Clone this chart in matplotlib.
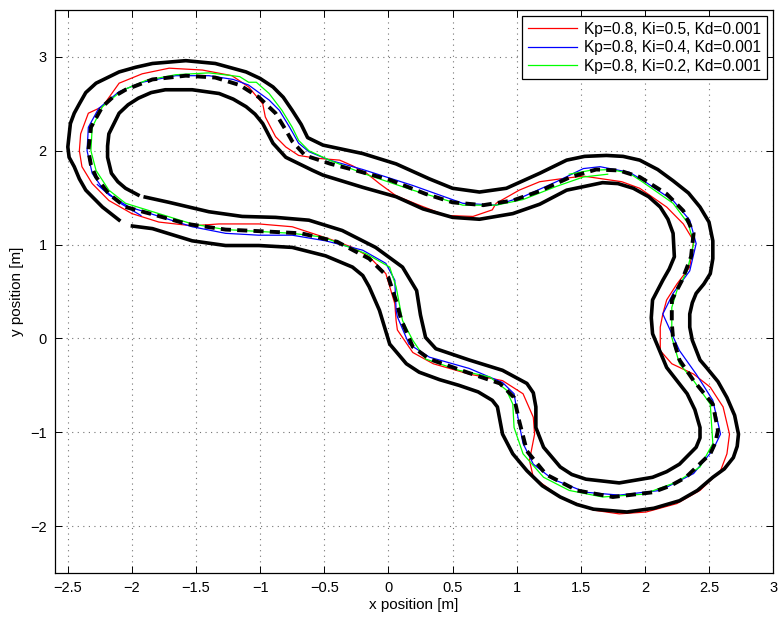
import numpy as np
import matplotlib
matplotlib.use("Agg")
import matplotlib.pyplot as plt

plt.rcParams['font.family'] = ['Liberation Sans', 'DejaVu Sans']

# pista: bordas externa / interna e linha central (x, y em metros)
outer = np.array([
    (-2.01, 1.20), (-1.84, 1.17), (-1.53, 1.04), (-1.27, 0.99), (-1.01, 0.99),
    (-0.75, 0.97), (-0.49, 0.88), (-0.28, 0.76), (-0.20, 0.67), (-0.15, 0.55),
    (-0.07, 0.30), (-0.03, 0.12), (0.01, -0.06), (0.14, -0.27), (0.24, -0.36),
    (0.40, -0.44), (0.55, -0.50), (0.70, -0.57), (0.81, -0.66), (0.85, -0.73),
    (0.89, -1.02), (0.97, -1.23), (1.08, -1.41), (1.20, -1.57), (1.34, -1.69),
    (1.47, -1.77), (1.60, -1.82), (1.86, -1.85), (2.07, -1.81), (2.27, -1.73),
    (2.41, -1.62), (2.53, -1.48), (2.62, -1.39), (2.69, -1.27), (2.72, -1.15),
    (2.73, -1.02), (2.70, -0.82), (2.64, -0.63), (2.57, -0.46), (2.48, -0.31),
    (2.43, -0.23), (2.37, -0.02), (2.35, 0.12), (2.35, 0.26), (2.37, 0.38),
    (2.40, 0.48), (2.46, 0.58), (2.51, 0.69), (2.53, 0.85), (2.53, 1.04),
    (2.50, 1.24), (2.43, 1.40), (2.34, 1.55), (2.22, 1.68), (2.10, 1.80),
    (1.96, 1.90), (1.83, 1.94), (1.70, 1.95), (1.53, 1.94), (1.39, 1.90),
    (1.18, 1.76), (0.92, 1.60), (0.71, 1.56), (0.50, 1.60), (0.32, 1.70),
    (0.06, 1.86), (-0.20, 1.97), (-0.51, 2.06), (-0.63, 2.14), (-0.68, 2.28),
    (-0.75, 2.43), (-0.82, 2.57), (-0.90, 2.68), (-1.00, 2.77), (-1.11, 2.84),
    (-1.35, 2.93), (-1.58, 2.96), (-1.84, 2.93), (-1.97, 2.89), (-2.10, 2.84),
    (-2.28, 2.72), (-2.36, 2.62), (-2.41, 2.50), (-2.45, 2.40), (-2.48, 2.29),
    (-2.50, 2.04), (-2.49, 1.93), (-2.45, 1.83), (-2.41, 1.70), (-2.36, 1.58),
    (-2.23, 1.40), (-2.09, 1.25),
])

inner = np.array([
    (-1.91, 1.51), (-1.71, 1.45), (-1.40, 1.35), (-1.14, 1.30), (-0.88, 1.29),
    (-0.62, 1.26), (-0.36, 1.15), (-0.10, 0.97), (0.11, 0.76), (0.22, 0.51),
    (0.25, 0.25), (0.29, 0.01), (0.37, -0.11), (0.63, -0.23), (0.89, -0.34),
    (1.08, -0.48), (1.13, -0.58), (1.15, -0.73), (1.15, -0.95), (1.21, -1.16),
    (1.34, -1.37), (1.43, -1.45), (1.54, -1.50), (1.80, -1.54), (2.06, -1.48),
    (2.17, -1.42), (2.27, -1.34), (2.40, -1.16), (2.43, -1.06), (2.43, -0.95),
    (2.39, -0.76), (2.33, -0.59), (2.17, -0.31), (2.06, 0.05), (2.05, 0.22),
    (2.06, 0.41), (2.14, 0.62), (2.19, 0.74), (2.23, 0.87), (2.22, 1.12),
    (2.18, 1.27), (2.12, 1.40), (2.03, 1.51), (1.91, 1.60), (1.79, 1.65),
    (1.67, 1.66), (1.39, 1.58), (1.18, 1.43), (0.97, 1.33), (0.71, 1.27),
    (0.50, 1.29), (0.27, 1.38), (0.06, 1.51), (-0.20, 1.61), (-0.51, 1.74),
    (-0.59, 1.79), (-0.80, 1.93), (-0.90, 2.08), (-0.98, 2.29), (-1.04, 2.39),
    (-1.11, 2.47), (-1.21, 2.55), (-1.32, 2.61), (-1.53, 2.65), (-1.74, 2.65),
    (-1.85, 2.62), (-1.95, 2.56), (-2.03, 2.49), (-2.10, 2.40), (-2.18, 2.18),
    (-2.19, 2.05), (-2.19, 1.93), (-2.16, 1.76), (-2.11, 1.67), (-2.05, 1.60),
    (-1.94, 1.52),
])

center = np.array([
    (-2.05, 1.40), (-1.86, 1.33), (-1.57, 1.22), (-1.27, 1.16), (-0.96, 1.14),
    (-0.68, 1.12), (-0.40, 1.03), (-0.15, 0.85), (0.00, 0.65), (0.06, 0.40),
    (0.10, 0.20), (0.19, -0.09), (0.32, -0.22), (0.61, -0.36), (0.87, -0.48),
    (0.98, -0.63), (1.02, -0.88), (1.08, -1.20), (1.23, -1.45), (1.47, -1.62),
    (1.75, -1.69), (2.06, -1.64), (2.20, -1.57), (2.32, -1.48), (2.51, -1.23),
    (2.55, -1.11), (2.57, -0.98), (2.53, -0.70), (2.38, -0.45), (2.27, -0.23),
    (2.22, 0.00), (2.21, 0.16), (2.21, 0.41), (2.29, 0.62), (2.36, 0.87),
    (2.38, 1.12), (2.30, 1.36), (2.17, 1.54), (1.96, 1.72), (1.80, 1.79),
    (1.62, 1.80), (1.42, 1.72), (1.18, 1.57), (0.97, 1.47), (0.74, 1.42),
    (0.50, 1.45), (0.29, 1.54), (0.01, 1.69), (-0.28, 1.80), (-0.45, 1.86),
    (-0.65, 1.95), (-0.75, 2.10), (-0.80, 2.22), (-0.88, 2.40), (-1.01, 2.57),
    (-1.16, 2.70), (-1.35, 2.78), (-1.58, 2.80), (-1.84, 2.76), (-2.05, 2.65),
    (-2.15, 2.57), (-2.23, 2.47), (-2.32, 2.25), (-2.34, 2.00), (-2.32, 1.85),
    (-2.28, 1.72), (-2.18, 1.54), (-2.05, 1.40),
])

# trajetorias do robo para cada ganho do PID
traj_ki05 = np.array([
    (-2.00, 1.33), (-1.79, 1.24), (-1.53, 1.20), (-1.32, 1.22), (-1.01, 1.22),
    (-0.75, 1.19), (-0.46, 1.06), (-0.28, 0.97), (-0.15, 0.87), (-0.02, 0.69),
    (0.05, 0.37), (0.06, 0.19), (0.07, 0.09), (0.19, -0.15), (0.35, -0.27),
    (0.63, -0.38), (0.89, -0.45), (1.05, -0.59), (1.13, -0.84), (1.14, -1.02),
    (1.10, -1.30), (1.13, -1.48), (1.34, -1.69), (1.60, -1.83), (1.80, -1.87),
    (2.01, -1.85), (2.25, -1.76), (2.43, -1.62), (2.59, -1.41), (2.64, -1.23),
    (2.66, -1.02), (2.61, -0.73), (2.51, -0.52), (2.38, -0.38), (2.21, -0.27),
    (2.12, -0.13), (2.12, 0.12), (2.14, 0.26), (2.17, 0.41), (2.25, 0.58),
    (2.35, 0.76), (2.38, 1.04), (2.30, 1.22), (2.17, 1.40), (1.96, 1.60),
    (1.82, 1.67), (1.52, 1.73), (1.34, 1.70), (1.18, 1.67), (1.02, 1.58),
    (0.84, 1.44), (0.81, 1.37), (0.66, 1.30), (0.45, 1.31), (0.24, 1.42),
    (0.06, 1.52), (-0.07, 1.65), (-0.17, 1.76), (-0.28, 1.84), (-0.38, 1.90),
    (-0.56, 1.92), (-0.70, 1.95), (-0.80, 2.04), (-0.88, 2.15), (-0.96, 2.36),
    (-0.98, 2.50), (-1.09, 2.68), (-1.22, 2.80), (-1.45, 2.86), (-1.71, 2.88),
    (-1.92, 2.82), (-2.10, 2.72), (-2.23, 2.47), (-2.34, 2.40), (-2.40, 2.18),
    (-2.41, 2.00), (-2.39, 1.83), (-2.31, 1.65), (-2.18, 1.47), (-2.00, 1.33),
])

traj_ki04 = np.array([
    (-2.27, 1.64), (-2.18, 1.53), (-2.02, 1.40), (-1.81, 1.31), (-1.53, 1.19),
    (-1.27, 1.12), (-1.01, 1.10), (-0.75, 1.10), (-0.49, 1.04), (-0.20, 0.94),
    (-0.02, 0.80), (0.05, 0.62), (0.06, 0.30), (0.07, 0.23), (0.16, -0.06),
    (0.32, -0.20), (0.63, -0.32), (0.89, -0.47), (0.98, -0.59), (1.01, -0.84),
    (1.05, -1.12), (1.13, -1.34), (1.28, -1.50), (1.54, -1.64), (1.80, -1.67),
    (2.12, -1.62), (2.38, -1.44), (2.53, -1.19), (2.59, -1.02), (2.53, -0.66),
    (2.40, -0.38), (2.27, -0.13), (2.20, 0.08), (2.14, 0.26), (2.22, 0.48),
    (2.35, 0.72), (2.40, 1.01), (2.35, 1.26), (2.22, 1.47), (1.99, 1.68),
    (1.88, 1.77), (1.65, 1.83), (1.52, 1.81), (1.31, 1.67), (1.05, 1.51),
    (0.84, 1.42), (0.58, 1.44), (0.19, 1.63), (-0.20, 1.80), (-0.46, 1.90),
    (-0.62, 1.99), (-0.70, 2.08), (-0.77, 2.25), (-0.85, 2.43), (-0.93, 2.54),
    (-1.09, 2.70), (-1.21, 2.76), (-1.40, 2.80), (-1.66, 2.80), (-1.92, 2.73),
    (-2.10, 2.63), (-2.26, 2.45), (-2.34, 2.25), (-2.35, 2.00), (-2.31, 1.76),
    (-2.23, 1.60), (-2.09, 1.44), (-1.93, 1.31),
])

traj_ki02 = np.array([
    (1.71, 1.75), (1.52, 1.72), (1.31, 1.62), (1.05, 1.48), (0.84, 1.42),
    (0.58, 1.42), (0.19, 1.58), (-0.20, 1.76), (-0.46, 1.90), (-0.62, 2.00),
    (-0.70, 2.11), (-0.75, 2.25), (-0.83, 2.43), (-0.93, 2.61), (-1.03, 2.73),
    (-1.09, 2.73), (-1.16, 2.79), (-1.40, 2.83), (-1.66, 2.81), (-1.89, 2.75),
    (-2.08, 2.64), (-2.23, 2.47), (-2.31, 2.25), (-2.32, 2.00), (-2.28, 1.79),
    (-2.18, 1.58), (-2.05, 1.44), (-1.79, 1.33), (-1.53, 1.22), (-1.27, 1.16),
    (-1.01, 1.14), (-0.75, 1.12), (-0.51, 1.08), (-0.17, 0.90), (0.01, 0.76),
    (0.06, 0.55), (0.11, 0.19), (0.19, -0.02), (0.29, -0.22), (0.55, -0.34),
    (0.79, -0.41), (0.92, -0.55), (0.97, -0.70), (0.98, -0.95), (1.05, -1.23),
    (1.21, -1.48), (1.41, -1.62), (1.67, -1.69), (1.99, -1.66), (2.25, -1.53),
    (2.43, -1.37), (2.53, -1.12), (2.51, -0.70), (2.38, -0.45), (2.27, -0.27),
    (2.21, 0.01), (2.21, 0.33), (2.25, 0.51), (2.33, 0.72), (2.38, 1.01),
    (2.34, 1.22), (2.22, 1.44), (1.99, 1.66), (1.88, 1.76), (1.73, 1.80),
    (1.57, 1.79), (1.41, 1.75),
])

labels = ['Kp=0.8, Ki=0.5, Kd=0.001',
          'Kp=0.8, Ki=0.4, Kd=0.001',
          'Kp=0.8, Ki=0.2, Kd=0.001']

xticks = [-2.5, -2, -1.5, -1, -0.5, 0, 0.5, 1, 1.5, 2, 2.5, 3]
xtick_labels = ['\u22122.5', '\u22122', '\u22121.5', '\u22121', '\u22120.5', '0',
                '0.5', '1', '1.5', '2', '2.5', '3']
yticks = [-2, -1, 0, 1, 2, 3]
ytick_labels = ['\u22122', '\u22121', '0', '1', '2', '3']

fig = plt.figure(figsize=(7.78, 6.21), dpi=100)
ax = fig.add_axes([0.0707, 0.0773, 0.923, 0.9066])

# trajetorias (ficam por baixo da pista)
ax.plot(traj_ki05[:, 0], traj_ki05[:, 1], color='#ff0000', lw=0.9, label=labels[0], zorder=2)
ax.plot(traj_ki04[:, 0], traj_ki04[:, 1], color='#0000ff', lw=0.9, label=labels[1], zorder=2)
ax.plot(traj_ki02[:, 0], traj_ki02[:, 1], color='#00ff00', lw=0.9, label=labels[2], zorder=2)

# pista
track_kw = dict(color='k', zorder=3, solid_joinstyle='round', solid_capstyle='butt')
ax.plot(outer[:, 0], outer[:, 1], lw=2.6, **track_kw)
ax.plot(inner[:, 0], inner[:, 1], lw=2.6, **track_kw)
ax.plot(center[:, 0], center[:, 1], color='k', lw=2.8, ls=(0, (2.6, 1.6)), zorder=3)

ax.set_xlim(-2.6, 3)
ax.set_ylim(-2.5, 3.5)
ax.set_xticks(xticks)
ax.set_xticklabels(xtick_labels)
ax.set_yticks(yticks)
ax.set_yticklabels(ytick_labels)
ax.tick_params(direction='in', top=True, right=True, length=5, width=0.7,
               labelsize=10.5, pad=6)
ax.grid(True, ls=(0, (1, 4)), color='0.45', lw=0.8)
for sp in ax.spines.values():
    sp.set_linewidth(0.9)

ax.set_xlabel('x position [m]', fontsize=11, labelpad=2)
ax.set_ylabel('y position [m]', fontsize=11, labelpad=4)

leg = ax.legend(loc='upper right', fontsize=11.2, fancybox=False, framealpha=1,
                edgecolor='k', handlelength=3.2, handletextpad=0.45,
                labelspacing=0.22, borderpad=0.35, borderaxespad=0.4)
leg.get_frame().set_linewidth(0.9)

fig.savefig('out.png', dpi=100)
